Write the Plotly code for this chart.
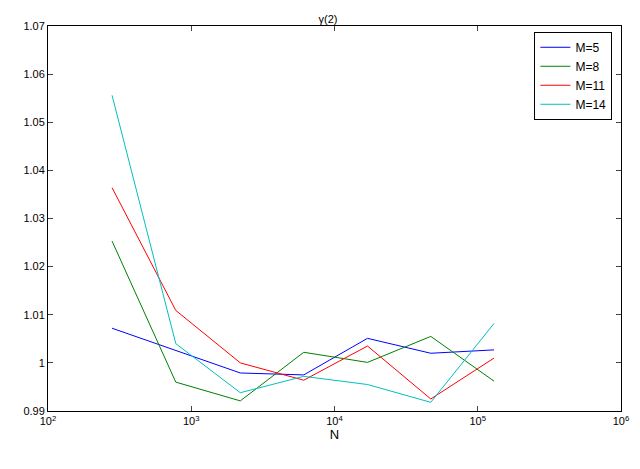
import plotly.graph_objects as go

N = [280, 780, 2200, 6100, 17000, 47000, 130000]
series = {
    "M=5": [1.0072, 1.0025, 0.9979, 0.9975, 1.0051, 1.0020, 1.0027],
    "M=8": [1.0253, 0.9960, 0.9921, 1.0022, 1.0001, 1.0055, 0.9962],
    "M=11": [1.0364, 1.0109, 1.0000, 0.9964, 1.0035, 0.9925, 1.0010],
    "M=14": [1.0556, 1.0040, 0.9938, 0.9972, 0.9955, 0.9918, 1.0082],
}
colors = ["#0000ff", "#008000", "#ff0000", "#00bfbf"]
yticks = [0.99, 1, 1.01, 1.02, 1.03, 1.04, 1.05, 1.06, 1.07]
ylabels = ["0.99", "1", "1.01", "1.02", "1.03", "1.04", "1.05", "1.06", "1.07"]

fig = go.Figure()
for (name, ys), c in zip(series.items(), colors):
    fig.add_trace(go.Scatter(x=N, y=ys, name=name, mode="lines", line=dict(color=c, width=1)))

ax = dict(showline=True, linecolor="black", linewidth=1, mirror="ticks", ticks="inside",
          ticklen=5, showgrid=False, zeroline=False, tickfont=dict(size=11, color="black"))
fig.update_layout(
    width=640, height=469, plot_bgcolor="white", paper_bgcolor="white",
    margin=dict(l=40, r=27, t=18, b=66),
    font=dict(family="Liberation Sans, Arial", size=11, color="black"),
    title=dict(text="γ(2)", x=0.5, xanchor="center", yref="paper", y=1, yanchor="bottom",
               pad=dict(b=3), font=dict(size=11)),
    xaxis=dict(type="log", range=[2, 6], tickvals=[1e2, 1e3, 1e4, 1e5, 1e6],
               ticktext=["10<sup>2</sup>", "10<sup>3</sup>", "10<sup>4</sup>", "10<sup>5</sup>", "10<sup>6</sup>"],
               title=dict(text="N", standoff=0), **ax),
    yaxis=dict(range=[0.99, 1.07], tickvals=yticks, ticktext=ylabels, **ax),
    legend=dict(x=0.985, y=0.985, xanchor="right", yanchor="top", bordercolor="black",
                borderwidth=1, bgcolor="white", font=dict(size=12), tracegroupgap=0),
)
fig.write_html("out.html")
